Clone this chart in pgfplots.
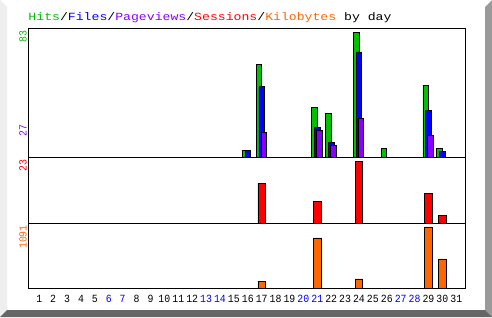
\documentclass[border=0pt]{standalone}
\usepackage{fontspec}
\usepackage{pgfplots}
\pgfplotsset{compat=1.18}
\newfontfamily\titlefontfam[FakeStretch=1.2]{Liberation Mono}
\newfontfamily\dayfontfam[FakeStretch=0.9]{Liberation Mono}
\newcommand\titlefont{\titlefontfam\fontsize{11}{13}\selectfont}
\newcommand\dayfont{\dayfontfam\fontsize{11}{13}\selectfont}
\definecolor{cHits}{HTML}{00C000}
\definecolor{cFiles}{HTML}{0000FF}
\definecolor{cPages}{HTML}{8800FF}
\definecolor{cSess}{HTML}{FF0000}
\definecolor{cKB}{HTML}{FF6600}
\definecolor{cWk}{HTML}{0000FF}
\definecolor{bLeft}{HTML}{EEEEEE}
\definecolor{bRight}{HTML}{9A9A9A}
\definecolor{bBottom}{HTML}{666666}
\pgfplotsset{
  panel/.style={
    scale only axis, width=437bp, xmin=0.209, xmax=31.65, ymin=0,
    axis line style={line width=1bp, black},
    xtick=\empty, ytick=\empty, clip=false, anchor=south west,
  },
  barstyle/.style={ybar, draw=black, line width=0.8bp},
}
\begin{document}
\begin{tikzpicture}[x=1bp,y=1bp]
\useasboundingbox (0,0) rectangle (492,317);
\fill[white] (0,0) rectangle (492,317);
\fill[bLeft] (0,317) -- (7,310) -- (7,7) -- (0,0) -- cycle;
\fill[bRight] (492,317) -- (485,310) -- (485,7) -- (492,0) -- cycle;
\fill[bBottom] (0,0) -- (7,7) -- (485,7) -- (492,0) -- cycle;

% title
\node[anchor=base west, inner sep=0, font=\titlefont] at (28.3,296.3)
  {\textcolor{cHits}{Hits}/\textcolor{cFiles}{Files}/\textcolor{cPages}{Pageviews}/\textcolor{cSess}{Sessions}/\textcolor{cKB}{Kilobytes} by day};

% top panel: hits / files / pageviews
\begin{axis}[panel, at={(28.3bp,159.3bp)}, height=129.4bp, ymax=85.65]
\addplot[barstyle, bar width=5.5bp, bar shift=-2.8bp, fill=cHits] coordinates
  {(16,5) (17,62) (21,33) (22,29) (24,83) (26,6) (29,48) (30,6)};
\addplot[barstyle, bar width=5.5bp, bar shift=0bp, fill=cFiles] coordinates
  {(16,5) (17,47) (21,20) (22,10) (24,70) (29,31) (30,4)};
\addplot[barstyle, bar width=5.5bp, bar shift=2bp, fill=cPages] coordinates
  {(17,17) (21,18) (22,8) (24,26) (29,15)};
\end{axis}

% middle panel: sessions
\begin{axis}[panel, at={(28.3bp,94bp)}, height=65.3bp, ymax=24.5]
\addplot[barstyle, bar width=7.5bp, bar shift=0bp, fill=cSess] coordinates
  {(17,15) (21,8) (24,23) (29,11) (30,3)};
\end{axis}

% bottom panel: kilobytes
\begin{axis}[panel, at={(28.3bp,29bp)}, height=65bp, ymax=1162,
  xtick={1,...,31}, major tick length=0pt,
  xticklabel style={anchor=base, font=\dayfont, inner sep=0pt, yshift=-14.7bp},
  xticklabels={1,2,3,4,5,\textcolor{cWk}{6},\textcolor{cWk}{7},8,9,10,11,12,\textcolor{cWk}{13},\textcolor{cWk}{14},15,16,17,18,19,\textcolor{cWk}{20},\textcolor{cWk}{21},22,23,24,25,26,\textcolor{cWk}{27},\textcolor{cWk}{28},29,30,31},
]
\addplot[barstyle, bar width=7.5bp, bar shift=0bp, fill=cKB] coordinates
  {(17,125) (21,894) (24,161) (29,1091) (30,519)};
\end{axis}

% rotated max labels
\node[rotate=90, anchor=east, inner sep=0, font=\dayfont, text=cHits] at (23,287) {83};
\node[rotate=90, anchor=east, inner sep=0, font=\dayfont, text=cPages] at (23,193) {27};
\node[rotate=90, anchor=east, inner sep=0, font=\dayfont, text=cSess] at (23,158) {23};
\node[rotate=90, anchor=east, inner sep=0, font=\dayfont, text=cKB] at (23,92) {1091};
\end{tikzpicture}
\end{document}
